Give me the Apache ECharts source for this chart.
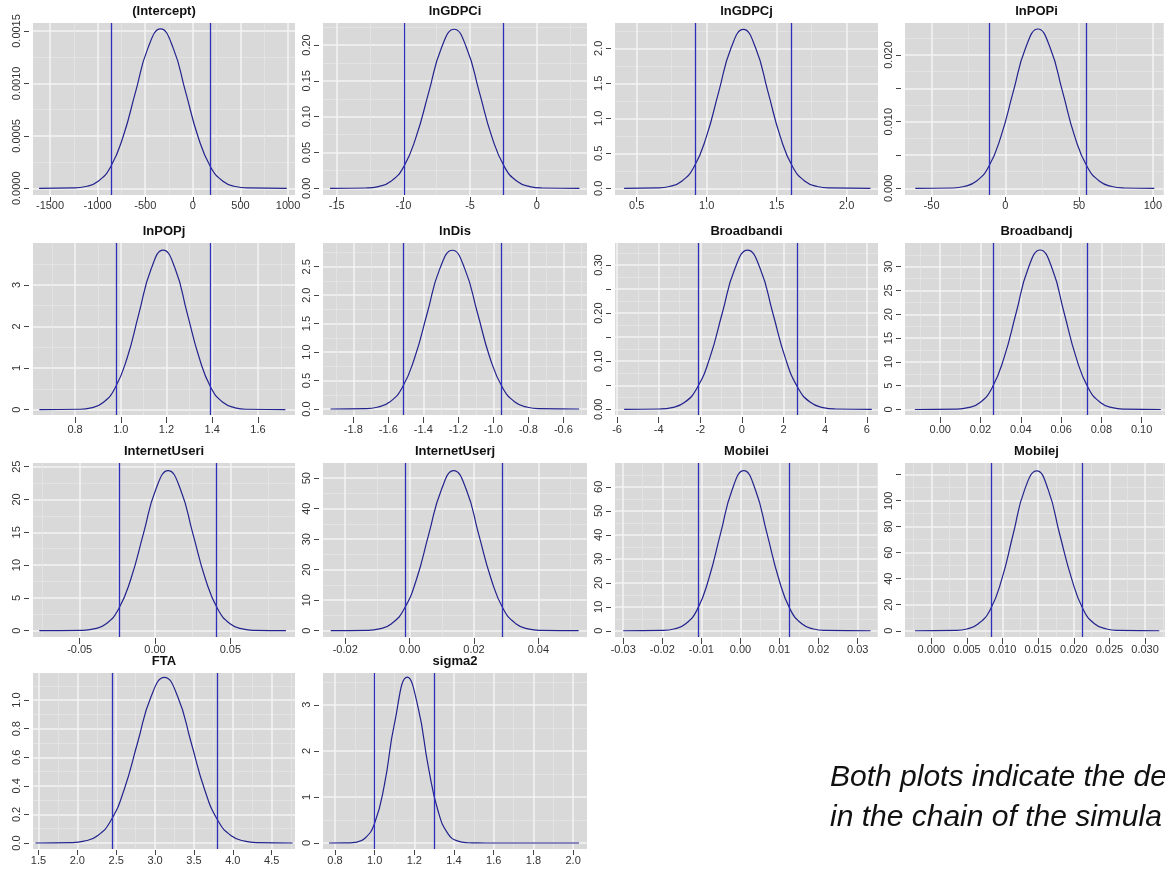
<!DOCTYPE html>
<html><head><meta charset="utf-8">
<script src="https://cdn.jsdelivr.net/npm/echarts@6/dist/echarts.min.js"></script>
<style>html,body{margin:0;padding:0;background:#fff}#c{width:1165px;height:879px}</style>
</head><body><div id="c"></div>
<script>
// ---------- data ----------
const panelNames = ['(Intercept)','lnGDPCi','lnGDPCj','lnPOPi','lnPOPj','lnDis','Broadbandi','Broadbandj','InternetUseri','InternetUserj','Mobilei','Mobilej','FTA','sigma2'];

const interceptX = [-1615,-1256,-1125,-994,-863,-732,-601,-470,-339,-208,-77,54,185,316,447,578,986];
const interceptY = [0,0.000003,0.000017,0.000067,0.000206,0.000494,0.000922,0.001341,0.00152,0.001341,0.000922,0.000494,0.000206,0.000067,0.000017,0.000003,0];
const lnGDPCiX = [-15.5,-12.82,-11.87,-10.93,-9.98,-9.04,-8.09,-7.15,-6.2,-5.26,-4.31,-3.37,-2.42,-1.48,-0.53,0.42,3.2];
const lnGDPCiY = [0,0.0005,0.0025,0.0098,0.030,0.0721,0.1346,0.1959,0.222,0.1959,0.1346,0.0721,0.030,0.0098,0.0025,0.0005,0];
const lnGDPCjX = [0.41,0.646,0.734,0.822,0.91,0.998,1.086,1.174,1.262,1.35,1.438,1.526,1.614,1.702,1.79,1.878,2.17];
const lnGDPCjY = [0,0.005,0.025,0.1,0.307,0.737,1.377,2.003,2.27,2.003,1.377,0.737,0.307,0.1,0.025,0.005,0];
const lnPOPiX = [-61,-36.4,-28,-19.7,-11.3,-3,5.4,13.8,22.1,30.4,38.8,47.1,55.5,63.9,72.2,80.6,101];
const lnPOPiY = [0,0.00005,0.00027,0.00105,0.00323,0.00776,0.0145,0.02109,0.0239,0.02109,0.0145,0.00776,0.00323,0.00105,0.00027,0.00005,0];
const lnPOPjX = [0.644,0.818,0.87,0.923,0.975,1.028,1.08,1.133,1.185,1.238,1.29,1.343,1.395,1.448,1.5,1.553,1.72];
const lnPOPjY = [0,0.008,0.043,0.169,0.52,1.247,2.329,3.389,3.84,3.389,2.329,1.247,0.52,0.169,0.043,0.008,0];
const lnDisX = [-1.93,-1.735,-1.663,-1.592,-1.52,-1.449,-1.377,-1.306,-1.234,-1.163,-1.091,-1.02,-0.948,-0.877,-0.805,-0.734,-0.51];
const lnDisY = [0,0.006,0.031,0.123,0.378,0.906,1.692,2.462,2.79,2.462,1.692,0.906,0.378,0.123,0.031,0.006,0];
const broadbandiX = [-5.66,-3.96,-3.36,-2.75,-2.15,-1.54,-0.94,-0.34,0.27,0.88,1.48,2.08,2.69,3.29,3.9,4.5,6.24];
const broadbandiY = [0,0.0007,0.0037,0.0145,0.0448,0.1075,0.2008,0.2921,0.331,0.2921,0.2008,0.1075,0.0448,0.0145,0.0037,0.0007,0];
const broadbandjX = [-0.0126,0.0078,0.0138,0.0198,0.0257,0.0317,0.0377,0.0436,0.0496,0.0556,0.0615,0.0675,0.0735,0.0795,0.0854,0.0914,0.1095];
const broadbandjY = [0,0.074,0.372,1.47,4.53,10.88,20.32,29.56,33.5,29.56,20.32,10.88,4.53,1.47,0.372,0.074,0];
const internetUseriX = [-0.0768,-0.0488,-0.0406,-0.0324,-0.0242,-0.016,-0.0077,0.0005,0.0087,0.0169,0.0251,0.0334,0.0416,0.0498,0.058,0.0662,0.0869];
const internetUseriY = [0,0.054,0.271,1.071,3.3,7.92,14.8,21.53,24.4,21.53,14.8,7.92,3.3,1.071,0.271,0.054,0];
const internetUserjX = [-0.0245,-0.0133,-0.0094,-0.0056,-0.0017,0.0022,0.006,0.0099,0.0137,0.0176,0.0214,0.0253,0.0291,0.033,0.0368,0.0407,0.0525];
const internetUserjY = [0,0.116,0.583,2.3,7.1,17.05,31.84,46.33,52.5,46.33,31.84,17.05,7.1,2.3,0.583,0.116,0];
const mobileiX = [-0.03,-0.0199,-0.017,-0.014,-0.011,-0.0081,-0.0051,-0.0021,0.00085,0.0038,0.0068,0.0098,0.0127,0.0157,0.0187,0.0216,0.0333];
const mobileiY = [0,0.147,0.74,2.93,9.02,21.66,40.45,58.86,66.7,58.86,40.45,21.66,9.02,2.93,0.74,0.147,0];
const mobilejX = [-0.0023,0.0034,0.005,0.0066,0.0083,0.0099,0.0115,0.0131,0.0148,0.0164,0.018,0.0197,0.0213,0.0229,0.0246,0.0262,0.032];
const mobilejY = [0,0.27,1.37,5.4,16.6,39.9,74.6,108.5,123,108.5,74.6,39.9,16.6,5.4,1.37,0.27,0];
const ftaX = [1.46,1.916,2.088,2.26,2.432,2.604,2.776,2.948,3.12,3.292,3.464,3.636,3.808,3.98,4.152,4.324,4.77];
const ftaY = [0,0.0026,0.0129,0.0509,0.157,0.3767,0.7035,1.0237,1.16,1.0237,0.7035,0.3767,0.157,0.0509,0.0129,0.0026,0];
const sigma2X = [0.77,0.85,0.9,0.95,1.0,1.05,1.1,1.165,1.22,1.27,1.32,1.37,1.42,1.47,1.52,1.6,2.03];
const sigma2Y = [0,0.0015,0.015,0.097,0.43,1.28,2.59,3.6,2.92,1.67,0.69,0.2,0.04,0.006,0.001,0,0];

const curvesX = [interceptX,lnGDPCiX,lnGDPCjX,lnPOPiX,lnPOPjX,lnDisX,broadbandiX,broadbandjX,internetUseriX,internetUserjX,mobileiX,mobilejX,ftaX,sigma2X];
const curvesY = [interceptY,lnGDPCiY,lnGDPCjY,lnPOPiY,lnPOPjY,lnDisY,broadbandiY,broadbandjY,internetUseriY,internetUserjY,mobileiY,mobilejY,ftaY,sigma2Y];

// credible-interval lines
const ciBounds = [[-859,181],[-9.93,-2.5],[0.917,1.607],[-10.7,54.9],[0.979,1.39],[-1.514,-0.954],[-2.1,2.64],[0.0262,0.073],[-0.0236,0.0409],[-0.0014,0.0288],[-0.0108,0.0125],[0.00838,0.02115],[2.45,3.80],[1.0,1.30]];

// axis ranges
const xRanges = [[-1679,1073],[-16.03,3.77],[0.345,2.224],[-68,107.4],[0.616,1.762],[-1.973,-0.465],[-6.1,6.54],[-0.0175,0.1116],[-0.081,0.0929],[-0.0269,0.0551],[-0.0321,0.0352],[-0.0037,0.0328],[1.43,4.80],[0.74,2.07]];
const yRanges = [[-0.000064,0.001576],[-0.0093,0.2307],[-0.096,2.361],[-0.001,0.0248],[-0.13,4.01],[-0.105,2.917],[-0.0118,0.3457],[-1.16,34.97],[-0.96,25.56],[-2.07,55.0],[-2.6,69.9],[-4.8,129],[-0.042,1.19],[-0.13,3.69]];

// tick values and labels
const xTicks = [
  [-1500,-1000,-500,0,500,1000],[-15,-10,-5,0],[0.5,1.0,1.5,2.0],[-50,0,50,100],
  [0.8,1.0,1.2,1.4,1.6],[-1.8,-1.6,-1.4,-1.2,-1.0,-0.8,-0.6],[-6,-4,-2,0,2,4,6],[0,0.02,0.04,0.06,0.08,0.10],
  [-0.05,0,0.05],[-0.02,0,0.02,0.04],[-0.03,-0.02,-0.01,0,0.01,0.02,0.03],[0,0.005,0.010,0.015,0.020,0.025,0.030],
  [1.5,2.0,2.5,3.0,3.5,4.0,4.5],[0.8,1.0,1.2,1.4,1.6,1.8,2.0]];
const xDecimals = [0,0,1,0,1,1,0,2,2,2,2,3,1,1];
const yTicks = [
  [0,0.0005,0.0010,0.0015],[0,0.05,0.10,0.15,0.20],[0,0.5,1.0,1.5,2.0],[0,0.005,0.010,0.015,0.020],
  [0,1,2,3],[0,0.5,1.0,1.5,2.0,2.5],[0,0.05,0.10,0.15,0.20,0.25,0.30],[0,5,10,15,20,25,30],
  [0,5,10,15,20,25],[0,10,20,30,40,50],[0,10,20,30,40,50,60],[0,20,40,60,80,100,120],
  [0,0.2,0.4,0.6,0.8,1.0],[0,1,2,3]];
const yLabelTicks = [
  [0,0.0005,0.0010,0.0015],[0,0.05,0.10,0.15,0.20],[0,0.5,1.0,1.5,2.0],[0,0.010,0.020],
  [0,1,2,3],[0,0.5,1.0,1.5,2.0,2.5],[0,0.10,0.20,0.30],[0,5,10,15,20,25,30],
  [0,5,10,15,20,25],[0,10,20,30,40,50],[0,10,20,30,40,50,60],[0,20,40,60,80,100],
  [0,0.2,0.4,0.6,0.8,1.0],[0,1,2,3]];
const yDecimals = [4,2,1,3,0,1,2,0,0,0,0,0,1,0];

const noteLines = ['Both plots indicate the de','in the chain of the simula'];

// ---------- layout & style ----------
const COLS = [33, 323, 615, 905];
const COLW = [262, 264, 263, 263];
const ROWS = [23, 243, 463, 673];
const ROWH = [172, 172, 174, 176];
const XAX = [{off:2,tick:5,margin:3},{off:2,tick:6,margin:7},{off:1,tick:6,margin:6},{off:1,tick:5,margin:5}];
const NARROW = "'Liberation Sans Narrow','Arial Narrow','Liberation Sans',Arial,sans-serif";
const BG = '#d9d9d9', MAJOR = '#f3f3f3', MINOR = '#e6e6e6';
const CURVE = '#23238e', VLINE = '#2e2ebd';

function minorsOf(t, lo, hi) {
  const out = [];
  const step = t.length > 1 ? t[1] - t[0] : 1;
  const ext = [t[0] - step].concat(t, [t[t.length - 1] + step]);
  for (let k = 0; k < ext.length - 1; k++) {
    const m = (ext[k] + ext[k + 1]) / 2;
    if (m > lo && m < hi) out.push(+m.toFixed(8));
  }
  return out;
}

const grids = [], xAxes = [], yAxes = [], series = [], titles = [];
panelNames.forEach((name, i) => {
  const r = Math.floor(i / 4), c = i % 4;
  const left = COLS[c], top = ROWS[r], w = COLW[c], h = ROWH[r];
  grids.push({left, top, width: w, height: h, show: true, backgroundColor: BG, borderWidth: 0, containLabel: false});
  titles.push({text: name, left: left + w / 2, top: top - 18, textAlign: 'center', padding: 0,
    textStyle: {fontSize: 13, fontWeight: 'bold', color: '#111', fontFamily: NARROW}});
  const xr = xRanges[i], yr = yRanges[i];
  const xa = XAX[r];
  // minor grid axes (drawn first)
  xAxes.push({type: 'value', gridIndex: i, min: xr[0], max: xr[1], position: 'top',
    axisLine: {show: false, onZero: false}, axisTick: {show: false, customValues: minorsOf(xTicks[i], xr[0], xr[1])},
    axisLabel: {show: false}, splitLine: {show: true, lineStyle: {color: MINOR, width: 0.8}}});
  yAxes.push({type: 'value', gridIndex: i, min: yr[0], max: yr[1], position: 'right',
    axisLine: {show: false, onZero: false}, axisTick: {show: false, customValues: minorsOf(yTicks[i], yr[0], yr[1])},
    axisLabel: {show: false}, splitLine: {show: true, lineStyle: {color: MINOR, width: 0.8}}});
  // major axes
  xAxes.push({type: 'value', gridIndex: i, min: xr[0], max: xr[1], position: 'bottom', offset: xa.off,
    axisLine: {show: false, onZero: false},
    axisTick: {show: true, length: xa.tick, lineStyle: {color: '#444', width: 1}, customValues: xTicks[i]},
    axisLabel: {customValues: xTicks[i], margin: xa.margin, color: '#333', fontSize: 11, fontFamily: NARROW,
      formatter: v => Number(v).toFixed(xDecimals[i])},
    splitLine: {show: true, lineStyle: {color: MAJOR, width: 1.5}}});
  yAxes.push({type: 'value', gridIndex: i, min: yr[0], max: yr[1], position: 'left', offset: 4,
    axisLine: {show: false, onZero: false},
    axisTick: {show: true, length: 5, lineStyle: {color: '#444', width: 1}, customValues: yTicks[i]},
    axisLabel: {customValues: yLabelTicks[i], rotate: 90, margin: 7, color: '#333', fontSize: 11, fontFamily: NARROW,
      formatter: v => Number(v).toFixed(yDecimals[i])},
    splitLine: {show: true, lineStyle: {color: MAJOR, width: 1.5}}});
  series.push({type: 'line', xAxisIndex: 2 * i + 1, yAxisIndex: 2 * i + 1,
    data: curvesX[i].map((x, j) => [x, curvesY[i][j]]),
    smooth: 0.5, showSymbol: false, symbol: 'none', lineStyle: {color: CURVE, width: 1.2},
    markLine: {silent: true, precision: 10, symbol: ['none', 'none'], label: {show: false},
      lineStyle: {color: VLINE, width: 1.3, type: 'solid'},
      data: ciBounds[i].map(v => ({xAxis: v}))}});
});

const graphics = noteLines.map((t, k) => ({type: 'text', left: 830, top: 763 + k * 40,
  style: {text: t, fontSize: 30, fontStyle: 'italic', fontFamily: "'Liberation Sans',Arial,sans-serif", fill: '#111'}}));

const chart = echarts.init(document.getElementById('c'), null, {renderer: 'canvas'});
chart.setOption({animation: false, backgroundColor: '#fff', title: titles, grid: grids,
  xAxis: xAxes, yAxis: yAxes, series, graphic: graphics});
</script></body></html>
